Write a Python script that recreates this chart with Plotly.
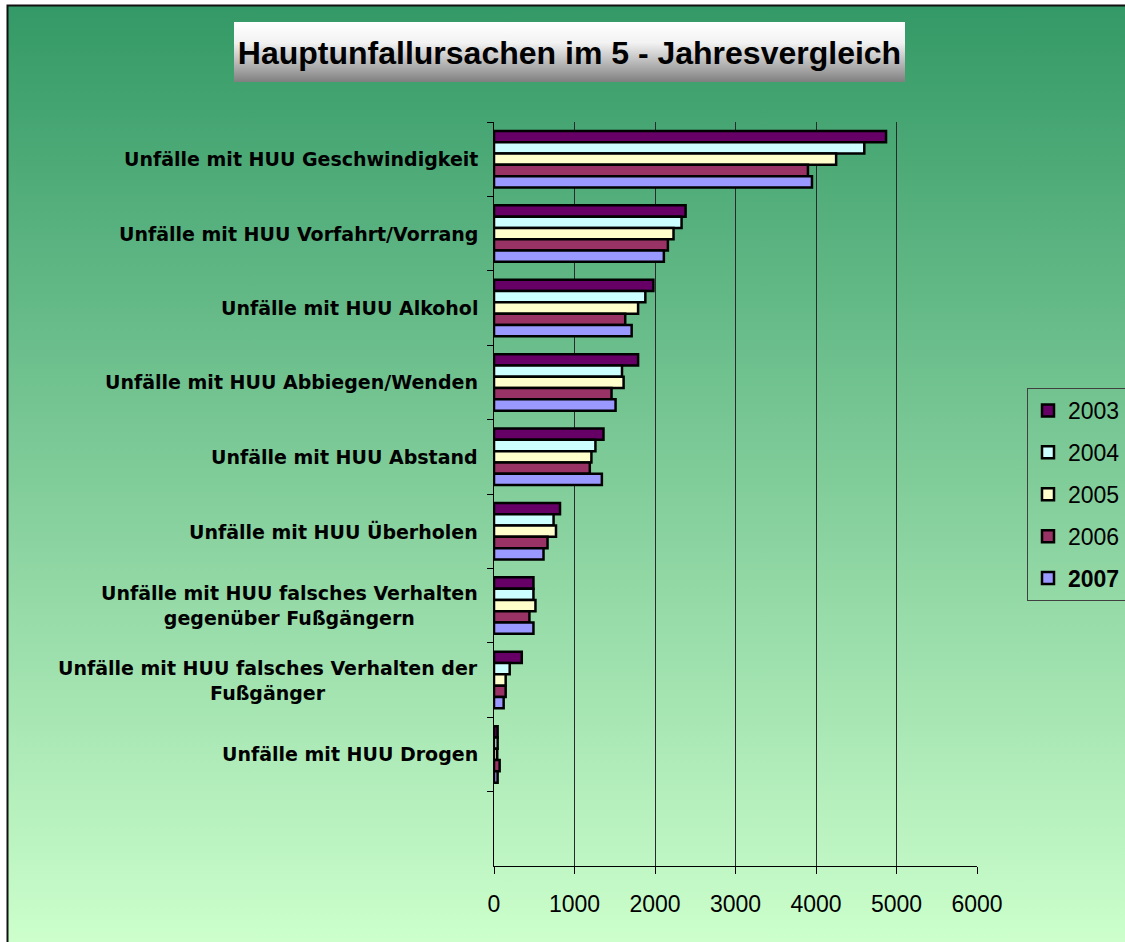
import base64
import plotly.graph_objects as go

categories = [
    "Unfälle mit HUU Geschwindigkeit",
    "Unfälle mit HUU Vorfahrt/Vorrang",
    "Unfälle mit HUU Alkohol",
    "Unfälle mit HUU Abbiegen/Wenden",
    "Unfälle mit HUU Abstand",
    "Unfälle mit HUU Überholen",
    "Unfälle mit HUU falsches Verhalten<br>gegenüber Fußgängern",
    "Unfälle mit HUU falsches Verhalten der<br>Fußgänger",
    "Unfälle mit HUU Drogen",
]
blank_slot = [" "]

years = ["2003", "2004", "2005", "2006", "2007"]
v2003 = [4870, 2380, 1980, 1790, 1360, 820, 490, 345, 45]
v2004 = [4600, 2330, 1880, 1590, 1260, 740, 490, 195, 45]
v2005 = [4250, 2230, 1790, 1610, 1210, 770, 515, 145, 40]
v2006 = [3900, 2160, 1630, 1460, 1190, 665, 440, 145, 70]
v2007 = [3950, 2110, 1710, 1510, 1340, 615, 490, 120, 45]
series = [v2003, v2004, v2005, v2006, v2007]
colors = ["#660066", "#CCFFFF", "#FFFFCC", "#993366", "#9999FF"]
legend_names = ["2003", "2004", "2005", "2006", "<b>2007</b>"]

x_ticks = [0, 1000, 2000, 3000, 4000, 5000, 6000]

W, H = 1125, 942
ML, MR, MT, MB = 494, 148, 122, 76
PW, PH = W - ML - MR, H - MT - MB

svg = f'''<svg xmlns="http://www.w3.org/2000/svg" width="{W}" height="{H}" viewBox="0 0 {W} {H}" preserveAspectRatio="none">
<defs>
<linearGradient id="bg" x1="0" y1="0" x2="0" y2="1"><stop offset="0" stop-color="#339966"/><stop offset="1" stop-color="#CCFFCC"/></linearGradient>
<linearGradient id="tb" x1="0" y1="0" x2="0" y2="1"><stop offset="0" stop-color="#FFFFFF"/><stop offset="0.35" stop-color="#F2F2F2"/><stop offset="1" stop-color="#808080"/></linearGradient>
</defs>
<rect width="{W}" height="{H}" fill="#FFFFFF"/>
<rect x="7" y="5" width="{W-7}" height="{H-5}" fill="url(#bg)"/>
<path d="M7.5 {H} V5.5 H{W}" stroke="#111" stroke-width="2" fill="none"/>
<rect x="234" y="22" width="671" height="60" fill="url(#tb)"/>
</svg>'''
bg_uri = "data:image/svg+xml;base64," + base64.b64encode(svg.encode("utf-8")).decode("ascii")

fig = go.Figure()
for name, vals, col, lname in zip(years, series, colors, legend_names):
    fig.add_trace(go.Bar(
        y=categories, x=vals, orientation="h", name=lname,
        legendgroup=name,
        marker=dict(color=col, line=dict(color="#000000", width=2.5)),
    ))

annotations = []
for c in categories:
    annotations.append(dict(
        x=0, xref="paper", y=c, yref="y", xanchor="right", yanchor="middle",
        xshift=-14, text=c, showarrow=False, align="center",
        font=dict(family="DejaVu Sans", size=19, color="#000000", weight="bold"),
    ))

fig.update_layout(
    width=W, height=H,
    margin=dict(l=ML, r=MR, t=MT, b=MB, autoexpand=False),
    paper_bgcolor="#FFFFFF",
    plot_bgcolor="rgba(0,0,0,0)",
    barmode="group", bargap=0.24, bargroupgap=0,
    title=dict(
        text="<b>Hauptunfallursachen im 5 - Jahresvergleich</b>",
        x=569.5 / W, xref="container", xanchor="center",
        y=1 - 53 / H, yref="container", yanchor="middle",
        font=dict(family="Liberation Sans", size=32, color="#000000"),
    ),
    images=[dict(
        source=bg_uri, xref="paper", yref="paper",
        x=-ML / PW, y=1 + MT / PH, sizex=W / PW, sizey=H / PH,
        xanchor="left", yanchor="top", sizing="stretch", layer="below",
    )],
    xaxis=dict(
        range=[0, 6000], tickvals=x_ticks, ticktext=[str(t) for t in x_ticks],
        showgrid=True, gridcolor="#2a2a2a", gridwidth=1,
        showline=True, linecolor="#000000", linewidth=1,
        ticks="outside", ticklen=7, tickcolor="#000000",
        tickfont=dict(family="Liberation Sans", size=23, color="#000000"),
        ticklabelstandoff=10,
        zeroline=False,
    ),
    yaxis=dict(
        type="category", categoryorder="array", categoryarray=categories + blank_slot,
        range=[len(categories) + 0.5, -0.5],
        showticklabels=False, tickson="boundaries",
        ticks="outside", ticklen=6, tickcolor="#000000",
        showgrid=False, showline=True, linecolor="#000000", linewidth=1,
        zeroline=False,
    ),
    legend=dict(
        x=(1027 - ML) / PW, y=1 - (388 - MT) / PH, xanchor="left", yanchor="top",
        xref="paper", yref="paper",
        bgcolor="rgba(0,0,0,0)", bordercolor="#404040", borderwidth=1,
        font=dict(family="Liberation Sans", size=23, color="#000000"),
        tracegroupgap=9, itemwidth=30, traceorder="grouped",
    ),
    annotations=annotations,
    showlegend=True,
)

fig.write_html("out.html", config={"displayModeBar": False},
               post_script="document.body.style.margin='0';document.body.style.padding='0';")
